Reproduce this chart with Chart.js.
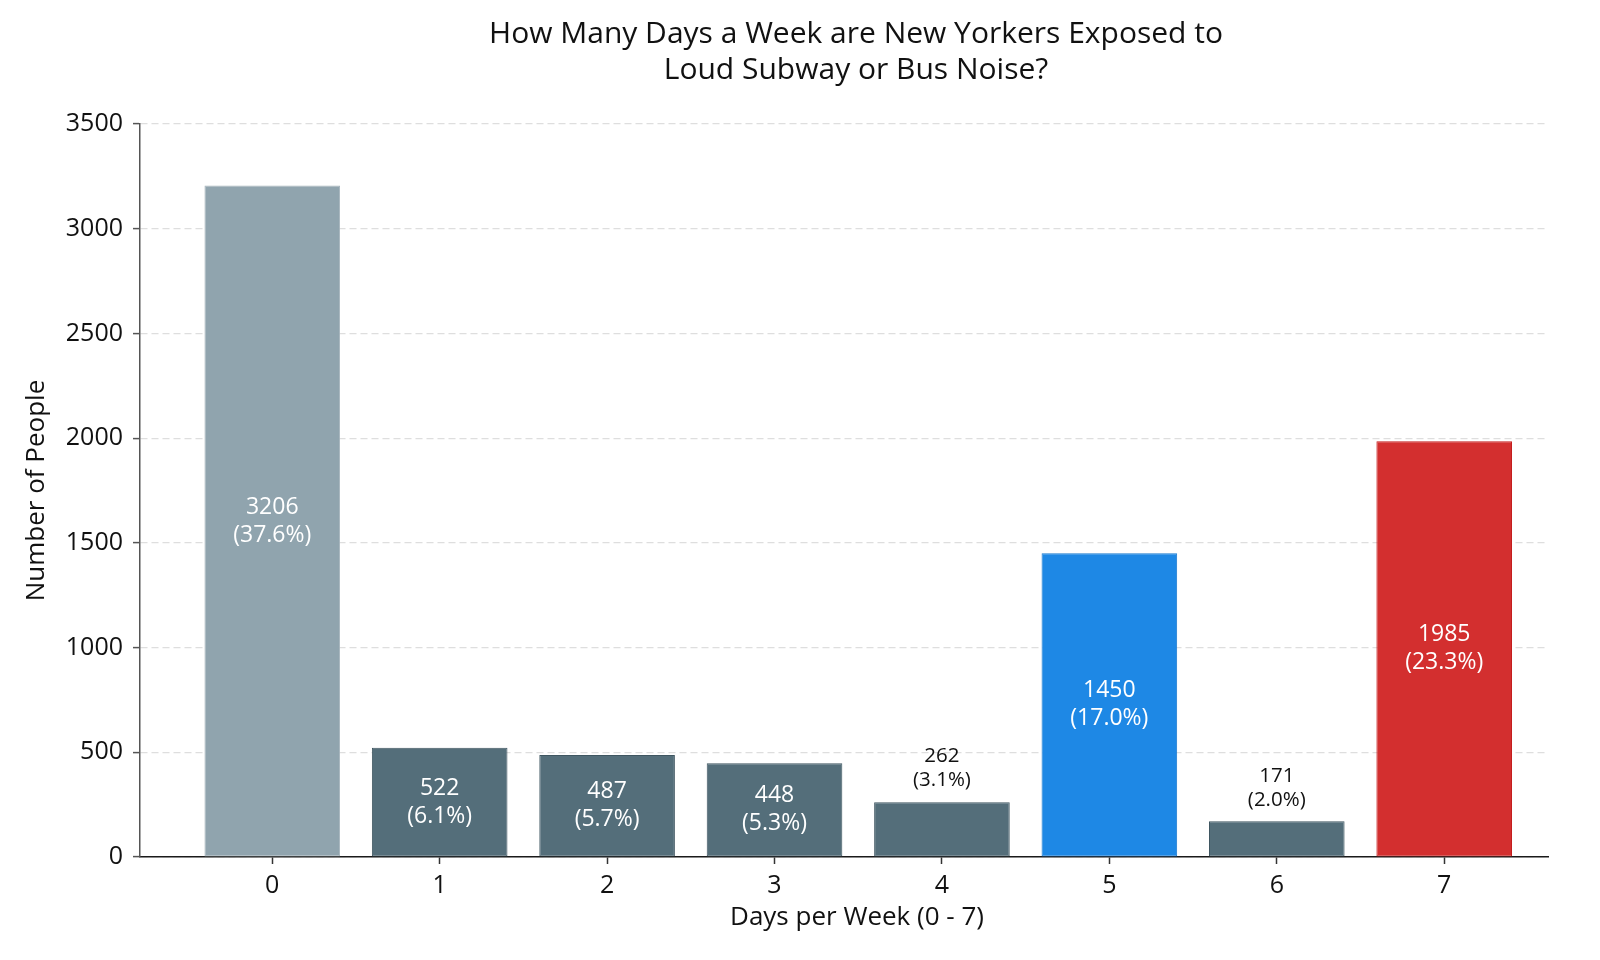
<!DOCTYPE html>
<html>
<head>
<meta charset="utf-8">
<script src="https://cdn.jsdelivr.net/npm/chart.js@4.4.1/dist/chart.umd.min.js"></script>
<style>
  html, body { margin: 0; padding: 0; background: #fff; overflow: hidden; }
  #wrap { width: 1600px; height: 960px; }
</style>
</head>
<body>
<div id="wrap"><canvas id="grafiek"></canvas></div>
<script>
// data
const dagen = [0, 1, 2, 3, 4, 5, 6, 7];
const aantallen = [3206, 522, 487, 448, 262, 1450, 171, 1985];
const kleuren = ['#90A4AE', '#546E7A', '#546E7A', '#546E7A', '#546E7A', '#1E88E5', '#546E7A', '#D32F2F'];
const randKleuren = ['#A7B6BD', '#3F5661', '#3F5661', '#3F5661', '#3F5661', '#1A7AD0', '#3F5661', '#C41E1E'];
const yTicks = [0, 500, 1000, 1500, 2000, 2500, 3000, 3500];
const titel = ['How Many Days a Week are New Yorkers Exposed to', 'Loud Subway or Bus Noise?'];
const xTitel = 'Days per Week (0 - 7)';

const totaal = aantallen.reduce((a, b) => a + b, 0);
const lettertype = '"Open Sans", sans-serif';

// labels in of boven de balken, plus titels
const labelPlugin = {
  id: 'balkLabels',
  afterDraw(chart) {
    const ctx = chart.ctx;
    const meta = chart.getDatasetMeta(0);
    const y = chart.scales.y;
    ctx.save();
    ctx.textAlign = 'center';
    ctx.textBaseline = 'middle';
    meta.data.forEach((bar, i) => {
      const v = aantallen[i];
      const pct = (v / totaal * 100).toFixed(1);
      if (v > 320) {
        ctx.font = '23px ' + lettertype;
        ctx.fillStyle = '#ffffff';
        const midden = (bar.y + bar.base) / 2;
        ctx.fillText(String(v), bar.x, midden - 14);
        ctx.fillText('(' + pct + '%)', bar.x, midden + 14);
      } else {
        ctx.font = '20.5px ' + lettertype;
        ctx.fillStyle = '#111111';
        const midden = y.getPixelForValue(v + 160);
        ctx.fillText(String(v), bar.x, midden - 12);
        ctx.fillText('(' + pct + '%)', bar.x, midden + 12);
      }
    });

    // hoofdtitel
    ctx.fillStyle = '#111111';
    ctx.font = '30px ' + lettertype;
    ctx.fillText(titel[0], 856, 34);
    ctx.fillText(titel[1], 856, 70);

    // x-as titel
    ctx.font = '26px ' + lettertype;
    ctx.fillText(xTitel, 857, 918);
    ctx.restore();
  }
};

Chart.defaults.font.family = lettertype;
Chart.defaults.color = '#111';

new Chart(document.getElementById('grafiek').getContext('2d'), {
  type: 'bar',
  data: {
    datasets: [{
      data: dagen.map((d, i) => ({ x: d, y: aantallen[i] })),
      backgroundColor: kleuren,
      borderColor: randKleuren,
      borderWidth: 1,
      borderSkipped: false,
      barPercentage: 0.81,
      categoryPercentage: 1
    }]
  },
  options: {
    responsive: true,
    maintainAspectRatio: false,
    animation: false,
    layout: { padding: { left: 0, right: 52, top: 124, bottom: 0 } },
    plugins: {
      legend: { display: false },
      tooltip: { enabled: false },
      title: { display: false }
    },
    scales: {
      x: {
        type: 'linear',
        min: -0.79,
        max: 7.62,
        offset: false,
        z: 1,
        afterBuildTicks: s => { s.ticks = dagen.map(v => ({ value: v })); },
        afterFit: s => { s.height = 103; },
        grid: { offset: false, drawOnChartArea: false, drawTicks: true, tickLength: 7, tickColor: '#333', tickWidth: 1.5 },
        border: { color: '#1a1a1a', width: 1.5 },
        ticks: { font: { size: 25 }, color: '#111', padding: 7, callback: v => String(v) }
      },
      y: {
        min: 0,
        max: 3500,
        z: 1,
        afterBuildTicks: s => { s.ticks = yTicks.map(v => ({ value: v })); },
        afterFit: s => { s.width = 140; },
        grid: { color: 'rgba(190,190,190,0.5)', lineWidth: 1.2, tickLength: 7, tickColor: '#555', tickWidth: 1.5 },
        border: { color: '#555', width: 1.5, dash: [7, 4] },
        ticks: { font: { size: 25 }, color: '#111', padding: 10, callback: v => String(v) },
        title: {
          display: true,
          text: 'Number of People',
          font: { size: 26 },
          color: '#111',
          padding: { top: 21, bottom: 0 }
        }
      }
    }
  },
  plugins: [labelPlugin]
});
</script>
</body>
</html>
